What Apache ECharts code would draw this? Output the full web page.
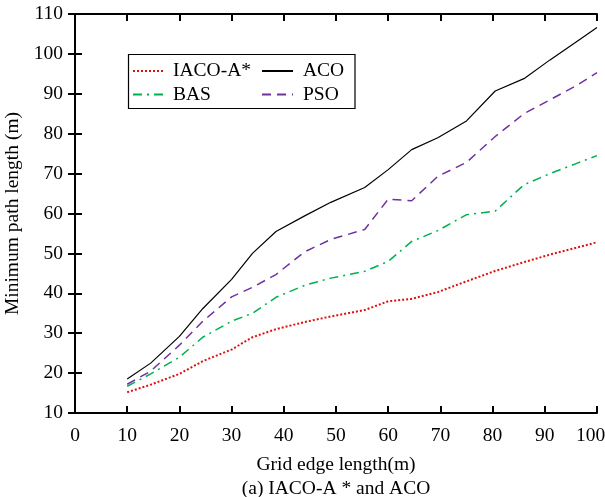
<!DOCTYPE html>
<html>
<head>
<meta charset="utf-8">
<script src="https://cdn.jsdelivr.net/npm/echarts@6/dist/echarts.min.js"></script>
<style>html,body{margin:0;padding:0;background:#fff}#c{width:605px;height:497px}</style>
</head>
<body>
<div id="c"></div>
<script>
var xVals = [10, 14.5, 20, 24.5, 30, 34, 38.5, 44, 49, 55.5, 60, 64.5, 69.5, 75, 80.5, 86, 91, 96, 100];
var iaco = [15.2, 17.1, 19.8, 23.0, 25.9, 29.0, 31.0, 32.8, 34.2, 35.8, 38.0, 38.6, 40.3, 43.0, 45.6, 47.8, 49.7, 51.4, 52.8];
var aco  = [18.5, 22.5, 29.2, 36.2, 43.5, 50.0, 55.5, 59.4, 62.8, 66.5, 71.0, 76.0, 79.0, 83.2, 90.7, 93.8, 98.5, 103.0, 106.6];
var bas  = [16.7, 19.8, 24.0, 29.0, 33.0, 35.0, 39.0, 42.0, 43.8, 45.5, 48.0, 53.0, 55.7, 59.7, 60.6, 67.2, 70.0, 72.5, 74.5];
var pso  = [17.2, 20.5, 27.0, 33.0, 39.1, 41.5, 44.7, 50.4, 53.5, 56.0, 63.6, 63.2, 69.3, 72.8, 79.3, 85.0, 88.5, 92.0, 95.3];
var xTicks = [0, 10, 20, 30, 40, 50, 60, 70, 80, 90, 100];
var yTicks = [10, 20, 30, 40, 50, 60, 70, 80, 90, 100, 110];
var names = ['IACO-A*', 'ACO', 'BAS', 'PSO'];

function pairs(ys){ return xVals.map(function(x,i){ return [x, ys[i]]; }); }
var FONT = 'Liberation Serif';
var FS = 19.5;
var chart = echarts.init(document.getElementById('c'), null, {renderer:'canvas'});
var axLine = {show:true, lineStyle:{color:'#000', width:2}};
var tick = {show:true, inside:true, length:7, lineStyle:{color:'#000', width:2}};
var legText = {fontFamily:FONT, fontSize:FS, color:'#000', lineHeight:20, padding:[0,0,0,5]};
var xMax = xTicks[xTicks.length-1];
chart.setOption({
  animation:false,
  backgroundColor:'#fff',
  grid:{left:75, right:8, top:14, bottom:84, containLabel:false, outerBoundsMode:'none'},
  title:{text:'(a) IACO-A * and ACO', left:336, textAlign:'center', top:479, padding:0,
    textStyle:{fontFamily:FONT, fontSize:FS, fontWeight:'normal', color:'#000'}},
  legend:[
    {data:['IACO-A*','BAS'], orient:'vertical', left:132, top:61, padding:0, itemWidth:30, itemHeight:14, itemGap:3.6,
     itemStyle:{opacity:0}, textStyle:legText},
    {data:['ACO','PSO'], orient:'vertical', left:261, top:61, padding:0, itemWidth:31, itemHeight:14, itemGap:3.6,
     itemStyle:{opacity:0}, textStyle:legText}
  ],
  graphic:[{type:'rect', shape:{x:128.5, y:54.5, width:226.5, height:54}, style:{fill:'none', stroke:'#000', lineWidth:1.2}, z:100}],
  xAxis:[
    {type:'value', min:xTicks[0], max:xMax, interval:10, position:'bottom',
     name:'Grid edge length(m)', nameLocation:'middle', nameGap:42,
     nameTextStyle:{fontFamily:FONT, fontSize:FS, color:'#000'},
     axisLine:axLine, axisTick:tick, splitLine:{show:false},
     axisLabel:{fontFamily:FONT, fontSize:FS, color:'#000', margin:13,
       formatter:function(v){ return v === xMax ? '{r|' + v + '}' : String(v); },
       rich:{r:{fontFamily:FONT, fontSize:FS, color:'#000', padding:[0,13,0,0]}}}},
    {type:'value', min:xTicks[0], max:xMax, interval:10, position:'top',
     axisLine:axLine, axisTick:tick, splitLine:{show:false}, axisLabel:{show:false}}
  ],
  yAxis:[
    {type:'value', min:yTicks[0], max:yTicks[yTicks.length-1], interval:10, position:'left',
     name:'Minimum path length (m)', nameLocation:'middle', nameGap:46,
     nameTextStyle:{fontFamily:FONT, fontSize:FS, color:'#000'},
     axisLine:axLine, axisTick:tick, splitLine:{show:false},
     axisLabel:{fontFamily:FONT, fontSize:FS, color:'#000', margin:12}},
    {type:'value', min:yTicks[0], max:yTicks[yTicks.length-1], interval:10, position:'right',
     axisLine:axLine, axisTick:tick, splitLine:{show:false}, axisLabel:{show:false}}
  ],
  series:[
    {name:names[0], type:'line', data:pairs(iaco), symbol:'none', color:'#e01010',
     lineStyle:{color:'#e01010', width:2, type:[2,2]}},
    {name:names[1], type:'line', data:pairs(aco), symbol:'none', color:'#000',
     lineStyle:{color:'#000', width:1.2, type:'solid'}},
    {name:names[2], type:'line', data:pairs(bas), symbol:'none', color:'#00b050',
     lineStyle:{color:'#00b050', width:1.5, type:[9,5,2,5]}},
    {name:names[3], type:'line', data:pairs(pso), symbol:'none', color:'#7030a0',
     lineStyle:{color:'#7030a0', width:1.5, type:[9,6]}}
  ]
});
</script>
</body>
</html>
